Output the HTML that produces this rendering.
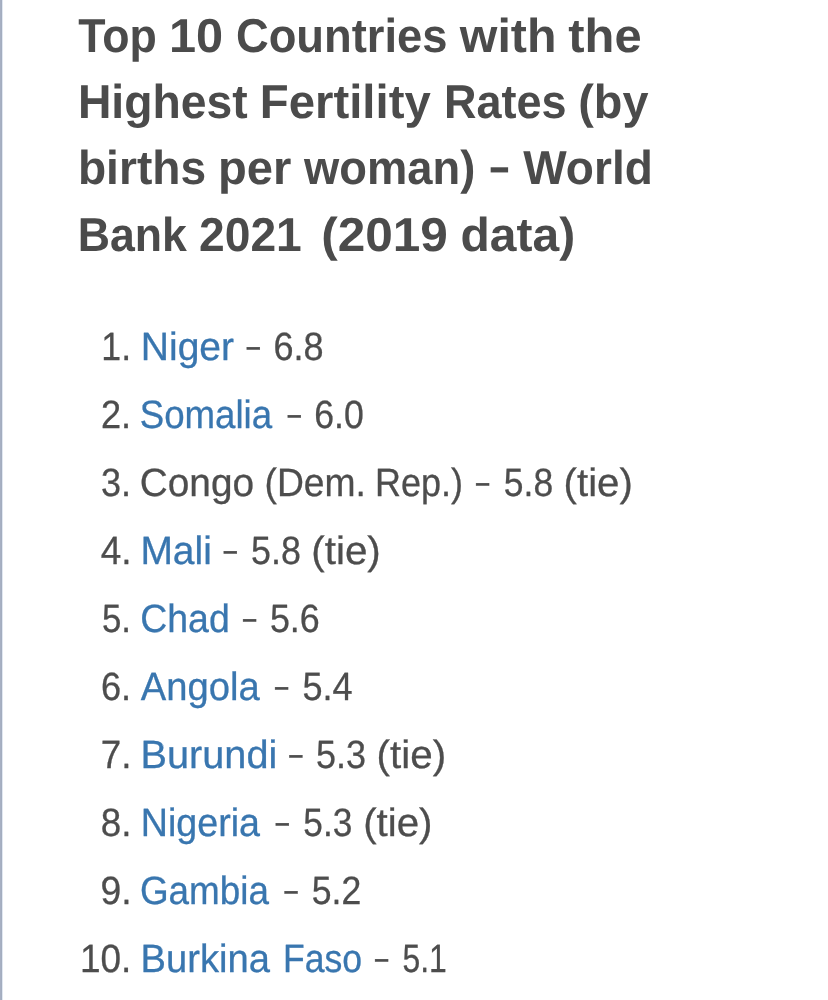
<!DOCTYPE html>
<html lang="en">
<head>
<meta charset="utf-8">
<title>Top 10 Countries with the Highest Fertility Rates</title>
<style>
html,body{margin:0;padding:0;background:#fff;}
body{text-rendering:geometricPrecision;width:828px;height:1000px;position:relative;overflow:hidden;font-family:"Liberation Sans",sans-serif;}
.bar{position:absolute;left:0;top:0;width:3px;height:1000px;background:linear-gradient(to right,#a7b0c3 0,#a7b0c3 1px,#a3adbf 1px,#a3adbf 2px,#e1e7f1 2px,#e1e7f1 3px);}
h2,ol,li,.ln{margin:0;padding:0;list-style:none;display:block;font-size:0;}
h2 .w{font-size:47.5px;font-weight:bold;color:#4b4b4b;}
ol .w{font-size:39.5px;font-weight:normal;color:#4d4d4d;-webkit-text-stroke:0.3px currentColor;}
ol a .w{color:#3976af;}
a{text-decoration:none;}
.w{position:absolute;line-height:1;white-space:pre;}
.d{left:0;top:0;transform-origin:0 0;}
</style>
</head>
<body>
<div class="bar"></div>
<h2>
<span class="ln"><span class="w d" style="transform:translate(78.19px,13.00px) scaleX(0.9409)">Top</span> <span class="w d" style="transform:translate(168.93px,13.00px) scaleX(1.0243)">10</span> <span class="w d" style="transform:translate(235.92px,13.00px) scaleX(0.9546)">Countries</span> <span class="w d" style="transform:translate(459.78px,13.00px) scaleX(1.0180)">with</span> <span class="w d" style="transform:translate(568.30px,13.00px) scaleX(1.0294)">the</span></span>
<span class="ln"><span class="w d" style="transform:translate(77.89px,79.00px) scaleX(0.9743)">Highest</span> <span class="w d" style="transform:translate(259.82px,79.00px) scaleX(0.9963)">Fertility</span> <span class="w d" style="transform:translate(443.88px,79.00px) scaleX(0.9474)">Rates</span> <span class="w d" style="transform:translate(578.24px,79.00px) scaleX(0.9867)">(by</span></span>
<span class="ln"><span class="w d" style="transform:translate(77.92px,145.00px) scaleX(0.9720)">births</span> <span class="w d" style="transform:translate(217.95px,145.00px) scaleX(0.9917)">per</span> <span class="w d" style="transform:translate(304.08px,145.00px) scaleX(0.9545)">woman)</span> <span class="w d" style="transform:translate(488.11px,146.02px) scale(1.445,0.904)">-</span> <span class="w d" style="transform:translate(523.24px,145.00px) scaleX(0.9691)">World</span></span>
<span class="ln"><span class="w d" style="transform:translate(77.80px,212.00px) scaleX(0.9390)">Bank</span> <span class="w d" style="transform:translate(199.00px,212.00px) scaleX(0.9728)">2021</span> <span class="w d" style="transform:translate(321.21px,212.00px) scaleX(1.0425)">(2019</span> <span class="w d" style="transform:translate(460.52px,212.00px) scaleX(1.0100)">data)</span></span>
</h2>
<ol>
<li><span class="w d" style="transform:translate(101.32px,328.00px) scaleX(0.9018)">1.</span> <a><span class="w d" style="transform:translate(140.80px,328.00px) scaleX(0.9881)">Niger</span></a> <span class="w d" style="transform:translate(244.59px,330.69px) scale(1.344,0.821)">-</span> <span class="w d" style="transform:translate(273.40px,328.00px) scaleX(0.9131)">6.8</span></li>
<li><span class="w d" style="transform:translate(100.94px,396.00px) scaleX(0.9146)">2.</span> <a><span class="w d" style="transform:translate(139.68px,396.00px) scaleX(0.9280)">Somalia</span></a> <span class="w d" style="transform:translate(285.54px,398.69px) scale(1.344,0.821)">-</span> <span class="w d" style="transform:translate(314.32px,396.00px) scaleX(0.9011)">6.0</span></li>
<li><span class="w d" style="transform:translate(101.01px,464.00px) scaleX(0.9122)">3.</span> <span class="w d" style="transform:translate(139.80px,464.00px) scaleX(0.9813)">Congo</span> <span class="w d" style="transform:translate(264.49px,464.00px) scaleX(0.9431)">(Dem.</span> <span class="w d" style="transform:translate(375.04px,464.00px) scaleX(0.9115)">Rep.)</span> <span class="w d" style="transform:translate(473.74px,466.69px) scale(1.344,0.821)">-</span> <span class="w d" style="transform:translate(503.82px,464.00px) scaleX(0.8978)">5.8</span> <span class="w d" style="transform:translate(563.62px,464.00px) scaleX(1.0166)">(tie)</span></li>
<li><span class="w d" style="transform:translate(100.76px,532.00px) scaleX(0.9341)">4.</span> <a><span class="w d" style="transform:translate(140.40px,532.00px) scaleX(0.9869)">Mali</span></a> <span class="w d" style="transform:translate(221.59px,534.69px) scale(1.344,0.821)">-</span> <span class="w d" style="transform:translate(251.10px,532.00px) scaleX(0.9075)">5.8</span> <span class="w d" style="transform:translate(311.31px,532.00px) scaleX(1.0214)">(tie)</span></li>
<li><span class="w d" style="transform:translate(101.94px,600.00px) scaleX(0.8807)">5.</span> <a><span class="w d" style="transform:translate(140.21px,600.00px) scaleX(0.9483)">Chad</span></a> <span class="w d" style="transform:translate(240.64px,602.69px) scale(1.344,0.821)">-</span> <span class="w d" style="transform:translate(269.90px,600.00px) scaleX(0.9078)">5.6</span></li>
<li><span class="w d" style="transform:translate(100.89px,668.00px) scaleX(0.9161)">6.</span> <a><span class="w d" style="transform:translate(140.74px,668.00px) scaleX(0.9671)">Angola</span></a> <span class="w d" style="transform:translate(272.79px,670.69px) scale(1.344,0.821)">-</span> <span class="w d" style="transform:translate(302.39px,668.00px) scaleX(0.9131)">5.4</span></li>
<li><span class="w d" style="transform:translate(100.85px,736.00px) scaleX(0.9311)">7.</span> <a><span class="w d" style="transform:translate(140.55px,736.00px) scaleX(1.0043)">Burundi</span></a> <span class="w d" style="transform:translate(286.99px,738.69px) scale(1.344,0.821)">-</span> <span class="w d" style="transform:translate(316.00px,736.00px) scaleX(0.9115)">5.3</span> <span class="w d" style="transform:translate(376.61px,736.00px) scaleX(1.0214)">(tie)</span></li>
<li><span class="w d" style="transform:translate(100.87px,804.00px) scaleX(0.9306)">8.</span> <a><span class="w d" style="transform:translate(140.71px,804.00px) scaleX(0.9533)">Nigeria</span></a> <span class="w d" style="transform:translate(273.59px,806.69px) scale(1.344,0.821)">-</span> <span class="w d" style="transform:translate(303.32px,804.00px) scaleX(0.8922)">5.3</span> <span class="w d" style="transform:translate(363.22px,804.00px) scaleX(1.0182)">(tie)</span></li>
<li><span class="w d" style="transform:translate(100.44px,872.00px) scaleX(0.9451)">9.</span> <a><span class="w d" style="transform:translate(139.91px,872.00px) scaleX(0.9324)">Gambia</span></a> <span class="w d" style="transform:translate(282.24px,874.69px) scale(1.344,0.821)">-</span> <span class="w d" style="transform:translate(311.71px,872.00px) scaleX(0.9013)">5.2</span></li>
<li><span class="w d" style="transform:translate(79.92px,940.00px) scaleX(0.9359)">10.</span> <a><span class="w d" style="transform:translate(140.57px,940.00px) scaleX(0.9659)">Burkina</span> <span class="w d" style="transform:translate(282.97px,940.00px) scaleX(0.9004)">Faso</span></a> <span class="w d" style="transform:translate(372.79px,942.69px) scale(1.344,0.821)">-</span> <span class="w d" style="transform:translate(402.46px,940.00px) scaleX(0.8067)">5.1</span></li>
</ol>
</body>
</html>
